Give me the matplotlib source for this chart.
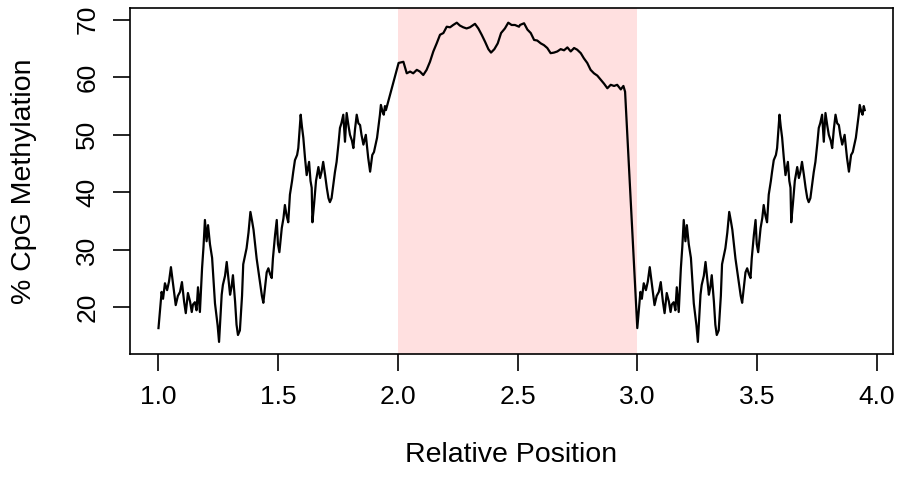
import matplotlib
matplotlib.use("Agg")
import matplotlib.pyplot as plt
import numpy as np

plt.rcParams['font.family'] = ['Liberation Sans', 'DejaVu Sans']

# flanking regions (upstream 1.0-1.95, downstream 3.0-3.95 share the same profile)
flank_offset = [
    0.000, 0.013, 0.019, 0.027, 0.036, 0.044, 0.052, 0.061, 0.072, 0.081,
    0.090, 0.098, 0.107, 0.114, 0.123, 0.132, 0.139, 0.144, 0.152, 0.159,
    0.165, 0.173, 0.182, 0.188, 0.194, 0.201, 0.207, 0.215, 0.224, 0.230,
    0.236, 0.247, 0.253, 0.259, 0.264, 0.269, 0.278, 0.285, 0.292, 0.299,
    0.305, 0.311, 0.320, 0.326, 0.332, 0.340, 0.349, 0.354, 0.368, 0.376,
    0.384, 0.391, 0.397, 0.410, 0.424, 0.432, 0.438, 0.445, 0.452, 0.459,
    0.466, 0.473, 0.478, 0.487, 0.494, 0.499, 0.505, 0.515, 0.522, 0.528,
    0.535, 0.542, 0.549, 0.558, 0.563, 0.570, 0.579, 0.584, 0.594, 0.599,
    0.605, 0.612, 0.619, 0.629, 0.635, 0.640, 0.643, 0.650, 0.658, 0.668,
    0.675, 0.681, 0.688, 0.696, 0.703, 0.710, 0.716, 0.723, 0.730, 0.737,
    0.744, 0.752, 0.758, 0.764, 0.772, 0.779, 0.786, 0.794, 0.800, 0.808,
    0.814, 0.821, 0.828, 0.835, 0.842, 0.848, 0.856, 0.866, 0.871, 0.876,
    0.884, 0.893, 0.900, 0.907, 0.913, 0.918, 0.925, 0.929, 0.936, 0.941,
    0.946, 0.950,
]
flank_pct = [
    16.4, 22.7, 21.5, 24.2, 23.0, 24.5, 27.0, 24.0, 20.4, 22.0,
    22.7, 24.4, 21.0, 19.0, 22.5, 21.0, 19.2, 20.5, 20.9, 19.5,
    23.5, 19.2, 26.8, 30.5, 35.2, 31.5, 34.3, 31.0, 28.6, 24.5,
    20.7, 16.9, 14.0, 18.5, 22.2, 23.9, 25.5, 27.9, 25.0, 22.2,
    23.5, 25.6, 21.0, 17.0, 15.2, 16.0, 22.0, 27.5, 30.3, 33.0,
    36.6, 35.0, 33.5, 28.5, 24.4, 22.0, 20.8, 23.5, 26.1, 26.8,
    25.8, 25.1, 28.5, 32.6, 35.2, 31.0, 29.6, 33.8, 35.5, 37.8,
    36.0, 34.8, 39.6, 42.0, 43.6, 45.6, 46.5, 47.7, 53.5, 51.5,
    49.5, 46.0, 43.0, 45.3, 42.0, 40.8, 34.8, 38.0, 42.0, 44.4,
    42.5, 43.5, 45.3, 43.0, 40.8, 39.0, 38.3, 39.0, 41.3, 43.5,
    45.3, 48.5, 51.2, 52.0, 53.5, 48.8, 53.8, 51.5, 50.0, 49.0,
    47.7, 51.0, 53.5, 52.0, 51.7, 50.0, 48.3, 50.0, 48.0, 46.0,
    43.6, 46.5, 47.0, 48.3, 49.5, 51.2, 53.5, 55.2, 54.0, 53.5,
    55.0, 54.3,
]

# gene body (2.0-2.95)
body_pos = [
    2.003, 2.023, 2.037, 2.051, 2.064, 2.079, 2.092, 2.106, 2.120, 2.134,
    2.148, 2.162, 2.176, 2.190, 2.204, 2.218, 2.231, 2.246, 2.259, 2.273,
    2.287, 2.301, 2.322, 2.336, 2.350, 2.364, 2.378, 2.389, 2.403, 2.417,
    2.431, 2.447, 2.461, 2.475, 2.489, 2.506, 2.510, 2.527, 2.541, 2.555,
    2.569, 2.582, 2.597, 2.610, 2.624, 2.638, 2.652, 2.666, 2.680, 2.694,
    2.708, 2.722, 2.736, 2.749, 2.764, 2.777, 2.791, 2.805, 2.819, 2.833,
    2.847, 2.861, 2.875, 2.889, 2.903, 2.916, 2.931, 2.942, 2.949,
]
body_pct = [
    62.5, 62.7, 60.7, 61.0, 60.7, 61.3, 61.0, 60.4, 61.3, 62.7,
    64.5, 65.9, 67.4, 67.7, 68.8, 68.7, 69.1, 69.5, 69.0, 68.7,
    68.5, 68.7, 69.3, 68.5, 67.4, 66.2, 64.9, 64.3, 64.9, 65.9,
    67.7, 68.5, 69.5, 69.1, 69.1, 68.8, 69.1, 69.4, 68.3, 67.7,
    66.5, 66.4, 65.9, 65.6, 65.1, 64.2, 64.3, 64.5, 64.9, 64.7,
    65.2, 64.5, 65.1, 64.8, 64.2, 63.3, 62.5, 61.3, 60.7, 60.3,
    59.6, 58.9, 58.1, 58.7, 58.5, 58.7, 57.9, 58.5, 57.5,
]

x_ticks = [1.0, 1.5, 2.0, 2.5, 3.0, 3.5, 4.0]
y_ticks = [20, 30, 40, 50, 60, 70]

pos = np.concatenate([1.0 + np.array(flank_offset), body_pos, 3.0 + np.array(flank_offset)])
pct = np.concatenate([flank_pct, body_pct, flank_pct])

fig = plt.figure(figsize=(8.99, 4.83), dpi=100)
ax = fig.add_axes([0.1446, 0.2671, 0.8487, 0.7157])

ax.plot(pos, pct, color="black", lw=1.6)
# translucent red band over the gene body
ax.axvspan(2.0, 3.0, color="red", alpha=0.12, lw=0)

ax.set_xlim(0.881, 4.068)
ax.set_ylim(11.9, 72.0)
ax.set_xticks(x_ticks)
ax.set_xticklabels([f"{t:.1f}" for t in x_ticks])
ax.set_yticks(y_ticks)
ax.set_yticklabels([str(t) for t in y_ticks], rotation=90, va="center")

for s in ax.spines.values():
    s.set_linewidth(1.2)
ax.tick_params(length=12, width=1.2, labelsize=19, pad=10)
ax.tick_params(axis="y", pad=10)

ax.set_xlabel("Relative Position", fontsize=20.5, labelpad=24)
ax.set_ylabel("% CpG Methylation", fontsize=20.5, labelpad=28)

plt.savefig("out.png", dpi=100)
